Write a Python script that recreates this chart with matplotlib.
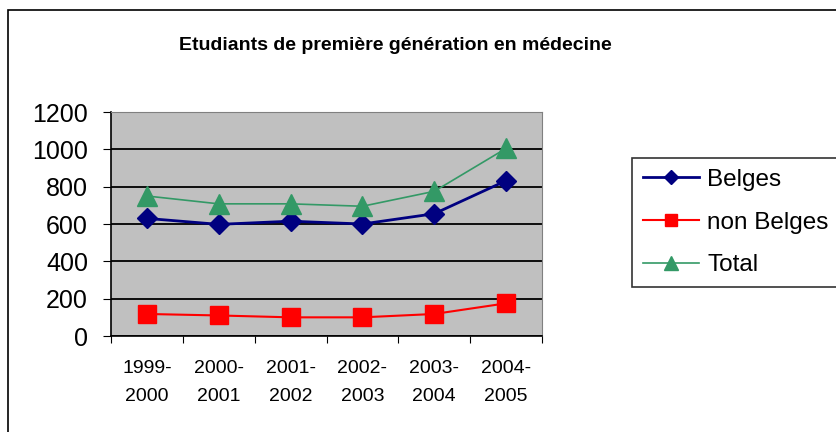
import matplotlib.pyplot as plt
import matplotlib.patches as mpatches
import numpy as np

plt.rcParams['font.family'] = ['Liberation Sans', 'DejaVu Sans']

# data
years = ['1999-\n2000', '2000-\n2001', '2001-\n2002', '2002-\n2003', '2003-\n2004', '2004-\n2005']
belges = [630, 598, 615, 600, 655, 832]
non_belges = [118, 110, 100, 100, 118, 175]
total = [750, 708, 708, 695, 775, 1005]

fig = plt.figure(figsize=(8.37, 4.32), dpi=100)
fig.patch.set_facecolor('white')

# outer chart frame
fig.patches.append(mpatches.Rectangle((8 / 837, -0.05), 1.05, 1 - 10 / 432 + 0.05,
                                      transform=fig.transFigure, fill=False,
                                      edgecolor='black', linewidth=1.2))

ax = fig.add_axes([111 / 837, 1 - 336 / 432, 431 / 837, 224 / 432])
ax.set_facecolor('#C0C0C0')

x = np.arange(len(years))
ax.plot(x, belges, color='#000080', marker='D', markersize=10, linewidth=2, label='Belges')
ax.plot(x, non_belges, color='#FF0000', marker='s', markersize=13, linewidth=1.5, label='non Belges')
ax.plot(x, total, color='#339966', marker='^', markersize=14, linewidth=1.2, label='Total')

ax.set_xlim(-0.5, len(years) - 0.5)
ax.set_ylim(0, 1200)
ax.set_yticks(range(0, 1201, 200))
ax.yaxis.grid(True, color='black', linewidth=1.3)
ax.set_axisbelow(True)

# category labels between tick marks
ax.set_xticks(np.arange(-0.5, len(years), 1.0))
ax.set_xticklabels([])
ax.set_xticks(x, minor=True)
ax.set_xticklabels(years, minor=True, fontsize=14, linespacing=1.9)
ax.tick_params(axis='x', which='major', direction='out', length=5, color='black')
ax.tick_params(axis='x', which='minor', length=0, pad=17)
ax.tick_params(axis='y', direction='out', length=5.5, labelsize=18, pad=11)

for side in ['top', 'right']:
    ax.spines[side].set_color('#808080')
for side in ['left', 'bottom']:
    ax.spines[side].set_color('black')
    ax.spines[side].set_linewidth(1.2)

fig.text(395 / 837, 1 - 46 / 432, 'Etudiants de première génération en médecine',
         ha='center', va='center', fontsize=14, fontweight='bold')

leg = fig.legend(loc='upper left', bbox_to_anchor=(632 / 837, 1 - 158 / 432),
                 fontsize=17.5, frameon=True, fancybox=False, edgecolor='black',
                 handlelength=2.3, handletextpad=0.35, borderpad=0.45, labelspacing=0.85,
                 borderaxespad=0, markerscale=0.7)
leg.get_frame().set_linewidth(1.2)

fig.savefig('out.png', dpi=100)
